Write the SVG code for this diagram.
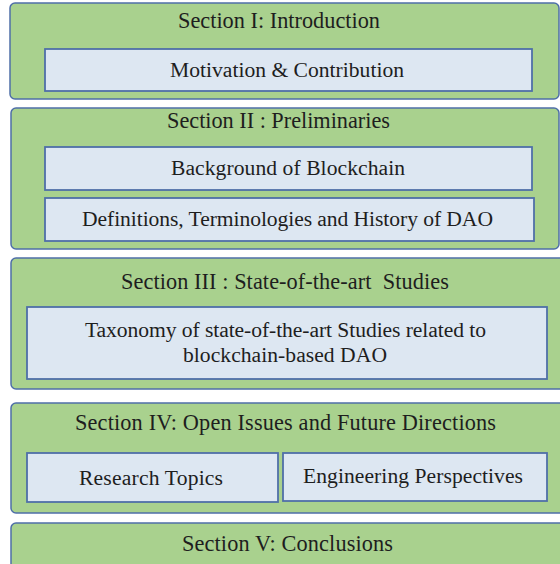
<svg xmlns="http://www.w3.org/2000/svg" width="560" height="564" viewBox="0 0 560 564">
<style>
.sec{fill:#a9d18e;stroke:#4f6fa8;stroke-width:1.5}
.sub{fill:#dde7f2;stroke:#4f6fa8;stroke-width:1.8}
text{font-family:'Liberation Serif','Times New Roman',Times,serif;font-size:21.6px;fill:#1e1e1e;text-anchor:middle}
.t{font-size:22.3px}
</style>
<rect width="560" height="564" fill="#ffffff"/>
<g id="section1">
<rect class="sec" x="10" y="3" width="549" height="96" rx="5"/>
<text class="t" x="279" y="28" textLength="202" lengthAdjust="spacing">Section I: Introduction</text>
</g>
<g id="motivation">
<rect class="sub" x="45" y="49" width="487" height="42"/>
<text x="287" y="77" textLength="234" lengthAdjust="spacing">Motivation &amp; Contribution</text>
</g>
<g id="section2">
<rect class="sec" x="11" y="108" width="548" height="141" rx="5"/>
<text class="t" x="278.5" y="128" textLength="223" lengthAdjust="spacing">Section II : Preliminaries</text>
</g>
<g id="background">
<rect class="sub" x="45" y="147" width="487" height="43"/>
<text x="288" y="175" textLength="234" lengthAdjust="spacing">Background of Blockchain</text>
</g>
<g id="definitions">
<rect class="sub" x="45" y="198" width="489" height="43"/>
<text x="287.5" y="226" textLength="411" lengthAdjust="spacing">Definitions, Terminologies and History of DAO</text>
</g>
<g id="section3">
<rect class="sec" x="11" y="258" width="560" height="131" rx="5"/>
<text class="t" x="285" y="289" textLength="328" lengthAdjust="spacing">Section III : State-of-the-art&#160; Studies</text>
</g>
<g id="taxonomy">
<rect class="sub" x="27" y="307" width="520" height="72"/>
<text x="285.5" y="337" textLength="401" lengthAdjust="spacing">Taxonomy of state-of-the-art Studies related to</text>
<text x="285" y="362" textLength="204" lengthAdjust="spacing">blockchain-based DAO</text>
</g>
<g id="section4">
<rect class="sec" x="11" y="403" width="560" height="110" rx="5"/>
<text class="t" x="285.5" y="430" textLength="421" lengthAdjust="spacing">Section IV: Open Issues and Future Directions</text>
</g>
<g id="research">
<rect class="sub" x="27" y="453" width="251" height="49"/>
<text x="151" y="485" textLength="144" lengthAdjust="spacing">Research Topics</text>
</g>
<g id="engineering">
<rect class="sub" x="283" y="453" width="264" height="48"/>
<text x="413" y="483" textLength="220" lengthAdjust="spacing">Engineering Perspectives</text>
</g>
<g id="section5">
<rect class="sec" x="11" y="523" width="560" height="60" rx="5"/>
<text class="t" x="287.5" y="551" textLength="211" lengthAdjust="spacing">Section V: Conclusions</text>
</g>
<g id="connectors"></g>
</svg>
